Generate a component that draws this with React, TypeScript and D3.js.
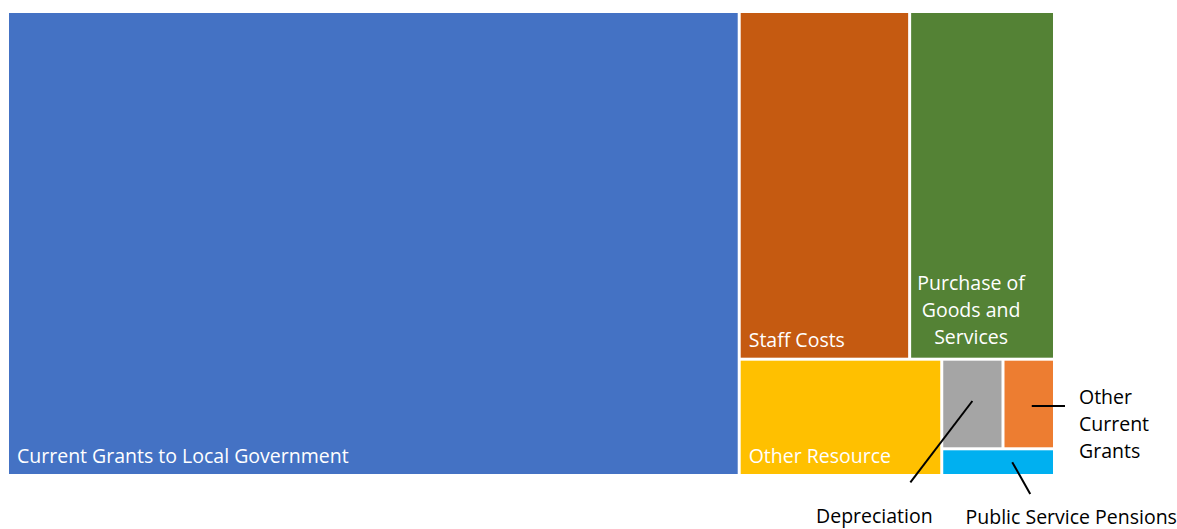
import React from "react";
import * as d3 from "d3";

const categories = [
  "Current Grants to Local Government",
  "Staff Costs",
  "Purchase of Goods and Services",
  "Other Resource",
  "Depreciation",
  "Other Current Grants",
  "Public Service Pensions",
];
const values = [69.9, 12.2, 10.37, 4.85, 1.13, 0.95, 0.62];
const colors = ["#4472C4", "#C55A11", "#548235", "#FFC000", "#A5A5A5", "#ED7D31", "#00B0F0"];

const W = 1177;
const H = 529;
const X0 = 9, Y0 = 13, TW = 1044, TH = 461;
const FONT = "'Open Sans', 'Noto Sans', sans-serif";
const FS = 19.5;

export default function App() {
  const data = { name: "root", children: categories.map((c, i) => ({ name: c, value: values[i], idx: i })) };
  const root = d3.hierarchy<any>(data).sum((d: any) => d.value || 0).sort((a, b) => (b.value || 0) - (a.value || 0));
  d3.treemap<any>().size([TW, TH]).paddingInner(3).tile(d3.treemapSquarify)(root);
  const leaves = root.leaves() as any[];
  const byName: Record<string, any> = {};
  leaves.forEach((l) => (byName[l.data.name] = l));

  const inside = (l: any) => {
    const n = l.data.name;
    if (n === "Purchase of Goods and Services") {
      const cx = (l.x0 + l.x1) / 2 - 11;
      const lines = ["Purchase of", "Goods and", "Services"];
      return lines.map((t, i) => (
        <text key={i} x={cx} y={l.y1 - 14 - (lines.length - 1 - i) * 27} textAnchor="middle" fill="#fff" fontSize={FS} fontFamily={FONT}>{t}</text>
      ));
    }
    if (["Current Grants to Local Government", "Staff Costs", "Other Resource"].includes(n)) {
      return <text x={l.x0 + 8} y={l.y1 - 11} fill="#fff" fontSize={FS} fontFamily={FONT}>{n}</text>;
    }
    return null;
  };

  const dep = byName["Depreciation"];
  const ocg = byName["Other Current Grants"];
  const psp = byName["Public Service Pensions"];

  return (
    <svg width={W} height={H} style={{ position: "absolute", left: 0, top: 0 }}>
      <rect width={W} height={H} fill="#fff" />
      <g transform={`translate(${X0},${Y0})`}>
        {leaves.map((l, i) => (
          <g key={i}>
            <rect x={l.x0} y={l.y0} width={l.x1 - l.x0} height={l.y1 - l.y0} fill={colors[l.data.idx]} />
            {inside(l)}
          </g>
        ))}
        {/* Other Current Grants */}
        <line x1={(ocg.x0 + ocg.x1) / 2 + 3} y1={(ocg.y0 + ocg.y1) / 2 + 2} x2={ocg.x1 + 12} y2={(ocg.y0 + ocg.y1) / 2 + 2} stroke="#000" strokeWidth={2} />
        {["Other", "Current", "Grants"].map((t, i) => (
          <text key={i} x={ocg.x1 + 26} y={ocg.y0 + 43 + i * 27} fill="#000" fontSize={FS} fontFamily={FONT}>{t}</text>
        ))}
        {/* Depreciation */}
        <line x1={(dep.x0 + dep.x1) / 2} y1={(dep.y0 + dep.y1) / 2 - 3} x2={(dep.x0 + dep.x1) / 2 - 62} y2={dep.y1 + 35} stroke="#000" strokeWidth={2} />
        <text x={(dep.x0 + dep.x1) / 2 - 98} y={dep.y1 + 76} textAnchor="middle" fill="#000" fontSize={FS} fontFamily={FONT}>Depreciation</text>
        {/* Public Service Pensions */}
        <line x1={psp.x0 + 69} y1={(psp.y0 + psp.y1) / 2} x2={psp.x0 + 87} y2={psp.y1 + 20} stroke="#000" strokeWidth={2} />
        <text x={psp.x0 + 128} y={psp.y1 + 50} textAnchor="middle" fill="#000" fontSize={FS} fontFamily={FONT}>Public Service Pensions</text>
      </g>
    </svg>
  );
}
